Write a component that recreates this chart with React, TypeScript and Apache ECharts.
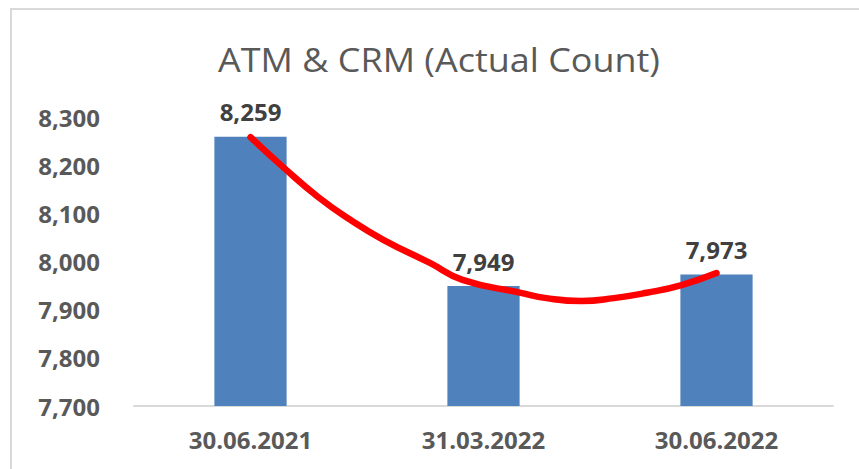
import React, { useEffect, useRef } from "react";
import * as echarts from "echarts";

const categories = ["30.06.2021", "31.03.2022", "30.06.2022"];
const counts = [8259, 7949, 7973];
// trendline points: [category position, value]
const trendPoints: [number, number][] = [
  [0, 8258], [0.14, 8196], [0.29, 8134], [0.43, 8086], [0.57, 8045],
  [0.77, 7997], [0.91, 7962], [1.16, 7935], [1.27, 7924], [1.42, 7918],
  [1.56, 7924], [1.7, 7935], [1.85, 7951], [2.0, 7976],
];
const yMin = 7700;
const yMax = 8300;
const yStep = 100;

const FONT = "'Open Sans', 'Noto Sans', sans-serif";

export default function App() {
  const ref = useRef<HTMLDivElement>(null);
  useEffect(() => {
    if (!ref.current) return;
    const chart = echarts.init(ref.current, null, { renderer: "svg" });
    chart.setOption({
      animation: false,
      backgroundColor: "#ffffff",
      grid: { left: 134, right: 26, top: 117, bottom: 63 },
      graphic: [
        {
          type: "rect",
          shape: { x: 11, y: 9, width: 900, height: 520 },
          style: { fill: "none", stroke: "#d9d9d9", lineWidth: 2 },
          silent: true,
        },
        {
          type: "text",
          x: 439,
          y: 59,
          scaleX: 1.09,
          style: {
            text: "ATM & CRM (Actual Count)",
            fill: "#595959",
            font: `400 33px ${FONT}`,
            align: "center",
            verticalAlign: "middle",
          },
        },
      ],
      xAxis: [
        {
          type: "category",
          data: categories,
          axisLine: { lineStyle: { color: "#d9d9d9", width: 2 } },
          axisTick: { show: false },
          axisLabel: {
            color: "#595959",
            fontFamily: FONT,
            fontWeight: "bold",
            fontSize: 24,
            margin: 21,
          },
        },
        { type: "value", min: -0.5, max: 2.5, show: false },
      ],
      yAxis: {
        type: "value",
        min: yMin,
        max: yMax,
        interval: yStep,
        axisLine: { show: false },
        axisTick: { show: false },
        splitLine: { show: false },
        axisLabel: {
          color: "#595959",
          fontFamily: FONT,
          fontWeight: "bold",
          fontSize: 24,
          margin: 34,
          formatter: (v: number) => v.toLocaleString("en-US"),
        },
      },
      series: [
        {
          type: "bar",
          data: counts,
          barWidth: "31%",
          itemStyle: { color: "#4f81bd" },
          label: {
            show: true,
            position: "top",
            distance: 13,
            color: "#404040",
            fontFamily: FONT,
            fontWeight: "bold",
            fontSize: 24,
            formatter: (p: any) => Number(p.value).toLocaleString("en-US"),
          },
        },
        {
          type: "line",
          xAxisIndex: 1,
          data: trendPoints,
          smooth: true,
          symbol: "none",
          lineStyle: { color: "#ff0000", width: 6.5, cap: "round" },
          z: 5,
        },
      ],
    });
    return () => chart.dispose();
  }, []);
  return (
    <div
      ref={ref}
      style={{ position: "fixed", left: 0, top: 0, width: 859, height: 469 }}
    />
  );
}
